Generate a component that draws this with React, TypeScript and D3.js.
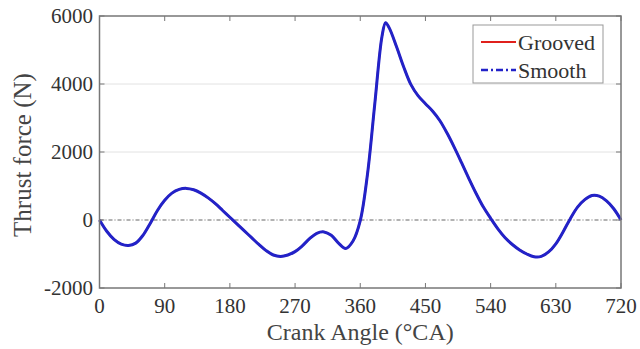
import React from "react";
import * as d3 from "d3";

const angles = [0,10,20,30,40,50,60,70,80,90,100,110,120,130,140,150,160,170,180,190,200,210,220,230,240,250,260,270,280,290,300,310,320,330,340,350,360,370,380,390,395,400,410,420,430,440,450,460,470,480,490,500,510,520,530,540,550,560,570,580,590,600,610,620,630,640,650,660,670,680,690,700,710,720];
const grooved = [0,-330,-570,-710,-750,-680,-450,-100,280,580,790,900,930,890,790,650,480,280,80,-120,-320,-520,-720,-900,-1030,-1070,-1030,-930,-760,-550,-390,-350,-450,-680,-840,-620,-20,1350,3400,5400,5800,5650,5100,4500,3980,3650,3420,3200,2920,2550,2130,1680,1220,780,380,50,-260,-520,-720,-880,-1000,-1080,-1070,-940,-700,-350,40,380,600,720,700,560,330,0];
const smooth = grooved.slice();
const xTicks = [0,90,180,270,360,450,540,630,720];
const yTicks = [-2000,0,2000,4000,6000];
const gridValues = [2000,4000];
const seriesNames = ["Grooved","Smooth"];

export default function App() {
  const W = 640, H = 349;
  const left = 99.5, right = 621, top = 16, bottom = 288;
  const x = d3.scaleLinear().domain([0,720]).range([left,right]);
  const y = d3.scaleLinear().domain([-2000,6000]).range([bottom,top]);
  const line = d3.line<number>().x((_, i) => x(angles[i])).y((d) => y(d)).curve(d3.curveCatmullRom.alpha(0.5));
  const font = "Liberation Serif, Times New Roman, serif";
  const axisCol = "#777";
  return (
    <svg width={W} height={H} style={{position:"absolute", left:0, top:0, background:"#fff"}} fontFamily={font}>
      {gridValues.map((v) => (
        <line key={v} x1={left} x2={right} y1={y(v)} y2={y(v)} stroke="#e2e2e2" strokeWidth={1} />
      ))}
      <line x1={left} x2={right} y1={y(0)} y2={y(0)} stroke="#666" strokeWidth={1.2} strokeDasharray="4,2,1,2" />
      <path d={line(grooved) || ""} fill="none" stroke="#e0201c" strokeWidth={2} />
      <path d={line(smooth) || ""} fill="none" stroke="#2222c8" strokeWidth={3} />
      <rect x={left} y={top} width={right-left} height={bottom-top} fill="none" stroke={axisCol} strokeWidth={1.5} />
      {xTicks.map((t) => (
        <g key={t}>
          <line x1={x(t)} x2={x(t)} y1={bottom} y2={bottom-5} stroke={axisCol} />
          <line x1={x(t)} x2={x(t)} y1={top} y2={top+5} stroke={axisCol} />
          <text x={x(t)} y={313} textAnchor="middle" fontSize={21} fill="#333">{t}</text>
        </g>
      ))}
      {yTicks.map((t) => (
        <g key={t}>
          <line x1={left} x2={left+5} y1={y(t)} y2={y(t)} stroke={axisCol} />
          <line x1={right} x2={right-5} y1={y(t)} y2={y(t)} stroke={axisCol} />
          <text x={93} y={y(t)+7} textAnchor="end" fontSize={21} fill="#333">{t}</text>
        </g>
      ))}
      <text x={(left+right)/2} y={340} textAnchor="middle" fontSize={24} fill="#444">Crank Angle (°CA)</text>
      <text transform={`translate(31,155) rotate(-90)`} textAnchor="middle" fontSize={25} fill="#444">Thrust force (N)</text>
      <rect x={473} y={25} width={130} height={58} fill="#fff" stroke="#999" strokeWidth={1} />
      <line x1={481} x2={516} y1={42} y2={42} stroke="#e0201c" strokeWidth={2} />
      <line x1={481} x2={516} y1={70} y2={70} stroke="#2222c8" strokeWidth={2.5} strokeDasharray="7,3,2,3" />
      <text x={518} y={50} fontSize={22} fill="#333">{seriesNames[0]}</text>
      <text x={518} y={78} fontSize={22} fill="#333">{seriesNames[1]}</text>
    </svg>
  );
}
